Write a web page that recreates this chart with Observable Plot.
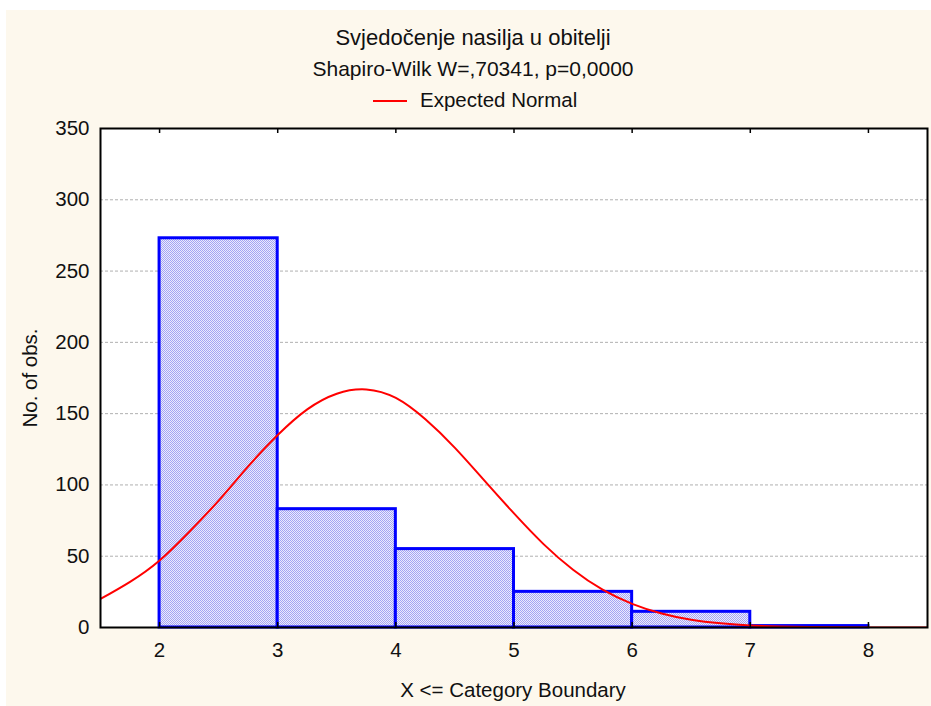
<!DOCTYPE html>
<html>
<head>
<meta charset="utf-8">
<script src="https://cdn.jsdelivr.net/npm/d3@7"></script>
<script src="https://cdn.jsdelivr.net/npm/@observablehq/plot@0.6"></script>
<style>
  body { margin: 0; background: #ffffff; font-family: "Liberation Sans", Arial, sans-serif; }
  #wrap { position: relative; width: 931px; height: 706px; overflow: hidden; }
  #panel { position: absolute; left: 6px; top: 10px; width: 925px; height: 696px; background: #fdf8ed; }
  #chart { position: absolute; left: 0; top: 0; }
  .t { position: absolute; white-space: nowrap; line-height: 1; color: #111; }
  .c { transform: translateX(-50%); }
</style>
</head>
<body>
<div id="wrap">
  <div id="panel"></div>
  <div id="chart"></div>
  <div class="t c" style="left:473px; top:27px; font-size:22px;">Svjedočenje nasilja u obitelji</div>
  <div class="t c" style="left:473px; top:58px; font-size:21px;">Shapiro-Wilk W=,70341, p=0,0000</div>
  <div class="t" style="left:373px; top:90px; font-size:20.5px;">
    <span style="display:inline-block; width:34px; height:2px; background:#ff0000; vertical-align:middle; margin-right:13px; position:relative; top:-1px;"></span>Expected Normal
  </div>
  <div class="t c" style="left:513px; top:680px; font-size:20.5px;">X &lt;= Category Boundary</div>
  <div class="t" style="left:30px; top:378px; font-size:20.5px; transform: translate(-50%,-50%) rotate(-90deg);">No. of obs.</div>
</div>
<script>
// Histogram bins (category boundaries) and counts
const binLo = [2, 3, 4, 5, 6, 7];
const binHi = [3, 4, 5, 6, 7, 8];
const counts = [273, 83, 55, 25, 11, 1];

// Expected normal curve
const curveX = [1.5, 1.75, 2, 2.25, 2.5, 2.75, 3, 3.25, 3.5, 3.75, 4, 4.25, 4.5, 4.75, 5, 5.25, 5.5, 5.75, 6, 6.25, 6.5, 6.75, 7, 7.25, 7.5, 7.75, 8, 8.25, 8.5];
const curveY = [20, 32, 47, 67, 89, 113, 135, 153, 164, 167, 161, 146, 126, 103, 80, 58.5, 40.5, 26.5, 16.6, 9.8, 5.4, 2.9, 1.4, 0.7, 0.3, 0.13, 0.05, 0.02, 0.01];

// Axis ticks
const xTicks = [2, 3, 4, 5, 6, 7, 8];
const yTicks = [0, 50, 100, 150, 200, 250, 300, 350];
const yGrid = [50, 100, 150, 200, 250, 300];

const bins = binLo.map((lo, i) => ({lo, hi: binHi[i], n: counts[i]}));
const curve = curveX.map((x, i) => ({x, y: curveY[i]}));

const plot = Plot.plot({
  width: 931,
  height: 706,
  marginLeft: 100,
  marginRight: 4,
  marginTop: 128,
  marginBottom: 79,
  style: {background: "transparent", fontFamily: "'Liberation Sans', Arial, sans-serif", fontSize: "20px", color: "#111"},
  x: {domain: [1.5, 8.5]},
  y: {domain: [0, 350]},
  marks: [
    Plot.frame({fill: "white", stroke: null}),
    Plot.gridY(yGrid, {stroke: "#b0b0b0", strokeOpacity: 1, strokeDasharray: "3,2"}),
    Plot.rectY(bins, {x1: "lo", x2: "hi", y: "n", fill: "url(#dots)", stroke: "#0000ff", strokeWidth: 3}),
    Plot.line(curve, {x: "x", y: "y", stroke: "#ff0000", strokeWidth: 2, curve: "natural", clip: true}),
    Plot.ruleX(xTicks, {x: d => d, y1: 0, y2: 3.5, stroke: "black", strokeWidth: 1.5}),
    Plot.ruleX(xTicks, {x: d => d, y1: 346.5, y2: 350, stroke: "black", strokeWidth: 1.5}),
    Plot.axisX({ticks: xTicks, tickFormat: d3.format("d"), tickSize: 0, tickPadding: 15, label: null, fontSize: 20.5}),
    Plot.axisY({ticks: yTicks, tickFormat: d3.format("d"), tickSize: 0, tickPadding: 11, label: null, fontSize: 20.5}),
    Plot.frame({stroke: "black", strokeWidth: 2})
  ]
});

// dotted fill pattern for the bars
const ns = "http://www.w3.org/2000/svg";
const defs = document.createElementNS(ns, "defs");
defs.innerHTML = '<pattern id="dots" width="2" height="2" patternUnits="userSpaceOnUse">' +
  '<rect width="2" height="2" fill="#ececfc"/>' +
  '<rect width="1" height="1" fill="#a4a4f4"/>' +
  '<rect x="1" y="1" width="1" height="1" fill="#a4a4f4"/></pattern>';
plot.insertBefore(defs, plot.firstChild);
document.getElementById("chart").appendChild(plot);
</script>
</body>
</html>
